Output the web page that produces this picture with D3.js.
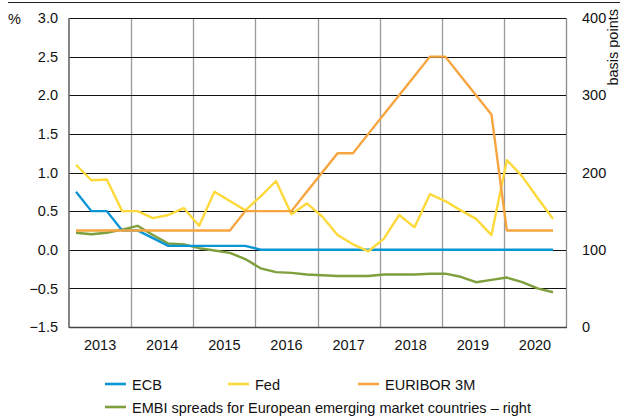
<!DOCTYPE html>
<html lang="en">
<head>
    <meta charset="UTF-8">
    <title>Interest rates and EMBI spreads</title>
    <script src="https://d3js.org/d3.v7.min.js"></script>
    <style>
        body {
            margin: 0;
            background: #fff;
            font-family: "Liberation Sans", Arial, sans-serif;
        }
        text {
            font-size: 14.5px;
            fill: #111;
        }
    </style>
</head>
<body>
    <div id="chart"></div>
    <script>
        // quarterly data, 2013Q1 - 2020Q4
        const years = ["2013", "2014", "2015", "2016", "2017", "2018", "2019", "2020"];
        const quarters = years.flatMap(y => ["Q1", "Q2", "Q3", "Q4"].map(q => y + q));

        const ecb = [0.75, 0.5, 0.5, 0.25, 0.25, 0.15, 0.05, 0.05, 0.05, 0.05, 0.05, 0.05,
                     0, 0, 0, 0, 0, 0, 0, 0, 0, 0, 0, 0, 0, 0, 0, 0, 0, 0, 0, 0];
        const fed = [1.10, 0.90, 0.91, 0.50, 0.50, 0.41, 0.45, 0.54, 0.31, 0.75, 0.63, 0.51,
                     0.69, 0.89, 0.46, 0.60, 0.43, 0.19, 0.07, -0.02, 0.14, 0.45, 0.29, 0.72,
                     0.63, 0.51, 0.40, 0.19, 1.16, 0.95, 0.67, 0.40];
        const euribor = [0.25, 0.25, 0.25, 0.25, 0.25, 0.25, 0.25, 0.25, 0.25, 0.25, 0.25, 0.5,
                         0.5, 0.5, 0.5, 0.75, 1.0, 1.25, 1.25, 1.5, 1.75, 2.0, 2.25, 2.5,
                         2.5, 2.25, 2.0, 1.75, 0.25, 0.25, 0.25, 0.25];
        // basis points, right axis
        const embi = [122, 120, 122, 126, 131, 119, 108, 107, 102, 99, 96, 88,
                      76, 71, 70, 68, 67, 66, 66, 66, 68, 68, 68, 69,
                      69, 65, 58, 61, 64, 58, 50, 45];

        const leftTicks = [3, 2.5, 2, 1.5, 1, 0.5, 0, -0.5, -1];
        const leftLabels = ["3.0", "2.5", "2.0", "1.5", "1.0", "0.5", "0.0", "\u22120.5", "\u22121.5"];
        const rightTicks = [400, 300, 200, 100, 0];

        const W = 620, H = 418;
        const plot = {left: 69, right: 566, top: 18, bottom: 327};

        const svg = d3.select("#chart").append("svg")
            .attr("width", W)
            .attr("height", H);

        const yL = d3.scaleLinear().domain([-1, 3]).range([plot.bottom, plot.top]);
        const yR = d3.scaleLinear().domain([0, 400]).range([plot.bottom, plot.top]);
        const xYear = d3.scaleBand().domain(years).range([plot.left, plot.right]);
        const x = d3.scalePoint().domain(quarters).range([76, 553]);

        // top rule
        svg.append("line")
            .attr("x1", 8).attr("x2", W).attr("y1", 2.5).attr("y2", 2.5)
            .attr("stroke", "#222").attr("stroke-width", 1);

        // vertical year separators
        svg.append("g").selectAll("line")
            .data(years.slice(1))
            .join("line")
            .attr("x1", d => Math.round(xYear(d)) + 0.5)
            .attr("x2", d => Math.round(xYear(d)) + 0.5)
            .attr("y1", plot.top).attr("y2", plot.bottom)
            .attr("stroke", "#9a9a9a").attr("stroke-width", 1.3);

        // right border
        svg.append("line")
            .attr("x1", plot.right + 0.5).attr("x2", plot.right + 0.5)
            .attr("y1", plot.top).attr("y2", plot.bottom)
            .attr("stroke", "#8a8a8a").attr("stroke-width", 1.3);

        // horizontal gridlines
        svg.append("g").selectAll("line")
            .data(leftTicks.filter(d => d > -1))
            .join("line")
            .attr("x1", plot.left).attr("x2", plot.right)
            .attr("y1", d => Math.round(yL(d)) + 0.5)
            .attr("y2", d => Math.round(yL(d)) + 0.5)
            .attr("stroke", "#111").attr("stroke-width", 1);

        // left axis
        const gL = svg.append("g")
            .attr("transform", `translate(${plot.left},0)`)
            .call(d3.axisLeft(yL).tickValues(leftTicks)
                .tickFormat((d, i) => leftLabels[i]).tickSize(0).tickPadding(11));
        gL.select(".domain").remove();
        gL.selectAll("text").style("font-size", "14.5px").attr("fill", "#111");

        // right axis
        const gR = svg.append("g")
            .attr("transform", `translate(${plot.right},0)`)
            .call(d3.axisRight(yR).tickValues(rightTicks).tickSize(0).tickPadding(16));
        gR.select(".domain").remove();
        gR.selectAll("text").style("font-size", "14.5px").attr("fill", "#111");

        // x axis labels
        const gX = svg.append("g")
            .attr("transform", `translate(0,${plot.bottom})`)
            .call(d3.axisBottom(xYear).tickSize(0).tickPadding(13));
        gX.select(".domain").remove();
        gX.selectAll("text").style("font-size", "14.5px").attr("fill", "#111");

        // frame: left and bottom axis lines
        svg.append("line")
            .attr("x1", plot.left).attr("x2", plot.left)
            .attr("y1", plot.top).attr("y2", plot.bottom + 0.8)
            .attr("stroke", "#666").attr("stroke-width", 1.6);
        svg.append("line")
            .attr("x1", plot.left).attr("x2", plot.right + 1)
            .attr("y1", plot.bottom + 0.5).attr("y2", plot.bottom + 0.5)
            .attr("stroke", "#444").attr("stroke-width", 1.5);

        // unit labels
        svg.append("text").attr("x", 8).attr("y", 24).text("%");
        svg.append("text")
            .attr("transform", "translate(618,9) rotate(-90)")
            .attr("text-anchor", "end")
            .text("basis points");

        const series = [
            {name: "EMBI", values: embi, y: yR, color: "#7e9f3c"},
            {name: "ECB", values: ecb, y: yL, color: "#0a95d4"},
            {name: "Fed", values: fed, y: yL, color: "#fdd93b"},
            {name: "EURIBOR 3M", values: euribor, y: yL, color: "#f6a53f"}
        ];

        series.forEach(s => {
            const line = d3.line()
                .x((d, i) => x(quarters[i]))
                .y(d => s.y(d));
            svg.append("path")
                .datum(s.values)
                .attr("fill", "none")
                .attr("stroke", s.color)
                .attr("stroke-width", 2.4)
                .attr("stroke-linejoin", "round")
                .attr("d", line);
        });

        // legend
        const legend = [
            {label: "ECB", color: "#0a95d4", x: 105, y: 384},
            {label: "Fed", color: "#fdd93b", x: 228, y: 384},
            {label: "EURIBOR 3M", color: "#f6a53f", x: 358, y: 384},
            {label: "EMBI spreads for European emerging market countries \u2013 right", color: "#7e9f3c", x: 105, y: 407}
        ];
        const lg = svg.append("g").selectAll("g")
            .data(legend)
            .join("g")
            .attr("transform", d => `translate(${d.x},${d.y})`);
        lg.append("line")
            .attr("x1", 0).attr("x2", 21)
            .attr("stroke", d => d.color).attr("stroke-width", 2.6);
        lg.append("text")
            .attr("x", 27).attr("y", 5.5)
            .text(d => d.label);
    </script>
</body>
</html>
